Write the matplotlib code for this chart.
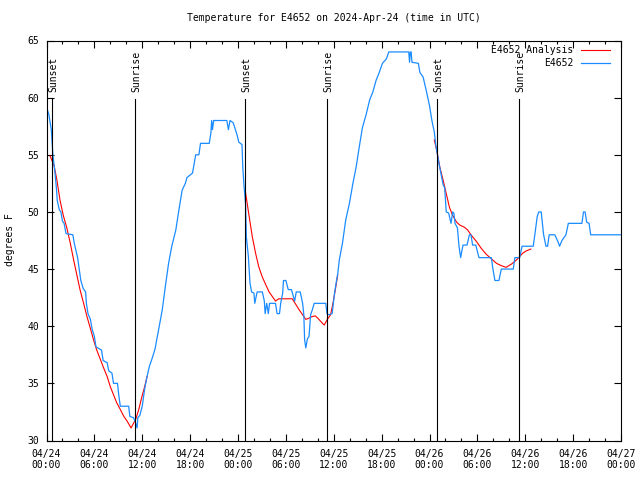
import numpy as np
import matplotlib
matplotlib.use('Agg')
import matplotlib.pyplot as plt
from matplotlib.ticker import MultipleLocator
import matplotlib.transforms as mtransforms

plt.rcParams['font.family'] = ['DejaVu Sans Mono']
plt.rcParams['font.size'] = 7

# Observed temperature (hours since 04/24 00:00 UTC, deg F)
obs_hours = [0.0, 0.3, 0.6, 0.75, 0.8, 1.05, 1.25, 1.35, 1.6, 1.8, 2.0, 2.2, 2.45, 3.3, 3.5, 3.9,
             4.1, 4.3, 4.6, 4.9, 5.0, 5.2, 5.5, 5.7, 6.0, 6.2, 6.9, 7.1, 7.6, 7.8, 8.2, 8.4,
             8.9, 9.05, 9.25, 10.3, 10.45, 10.9, 11.1, 11.35, 11.45, 11.7, 12.0, 12.3, 12.6, 12.9,
             13.2, 13.6, 14.0, 14.5, 14.9, 15.3, 15.7, 16.2, 16.6, 17.0, 17.4, 17.6, 18.3, 18.5,
             18.7, 19.1, 19.3, 20.4, 20.6, 20.7, 20.8, 20.95, 22.6, 22.8, 23.0, 23.4, 23.9, 24.1,
             24.5, 24.6, 24.75, 24.95, 25.05, 25.3, 25.5, 25.7, 26.0, 26.1, 26.4, 27.05, 27.3, 27.4,
             27.6, 27.8, 27.95, 28.7, 28.9, 29.2, 29.35, 29.6, 29.7, 30.0, 30.3, 30.7, 31.1, 31.3,
             31.8, 32.1, 32.25, 32.35, 32.5, 32.7, 32.9, 33.1, 33.3, 33.55, 35.0, 35.15, 35.4, 35.8,
             36.1, 36.3, 36.5, 36.7, 37.1, 37.5, 37.95, 38.4, 38.8, 39.2, 39.6, 40.05, 40.5, 40.9,
             41.3, 41.7, 42.1, 42.6, 42.9, 45.4, 45.5, 45.6, 45.7, 45.8, 46.6, 46.8, 47.2, 47.6,
             48.0, 48.3, 48.6, 48.8, 49.2, 49.5, 49.7, 49.9, 50.1, 50.4, 50.7, 50.9, 51.05, 51.2,
             51.5, 51.7, 51.9, 52.2, 52.7, 53.0, 53.2, 53.4, 53.8, 54.2, 55.75, 55.95, 56.2, 56.7,
             57.0, 58.5, 58.7, 59.3, 59.6, 61.0, 61.2, 61.5, 61.7, 62.0, 62.3, 62.6, 62.8, 63.0,
             63.7, 64.1, 64.3, 64.6, 65.1, 65.4, 67.1, 67.3, 67.5, 67.7, 68.0, 68.2, 72.0]
obs_temps = [59.2, 58.5, 57.2, 55.5, 55.0, 53.5, 52.0, 51.0, 50.2, 50.0, 49.2, 49.0, 48.1, 48.0, 47.2, 46.0,
             45.0, 44.0, 43.3, 43.0, 42.0, 41.1, 40.6, 39.8, 39.1, 38.2, 37.9, 37.0, 36.8, 36.1, 35.9, 35.0,
             35.0, 34.0, 33.0, 33.0, 32.1, 32.0, 31.7, 31.1, 32.0, 32.2, 33.0, 34.5, 35.6, 36.5,
             37.1, 38.0, 39.5, 41.4, 43.5, 45.5, 47.0, 48.4, 50.2, 51.9, 52.5, 53.0, 53.4, 54.2,
             55.0, 55.0, 56.0, 56.0, 56.9, 58.0, 57.2, 58.0, 58.0, 57.2, 58.0, 57.8, 56.7, 56.1,
             55.9, 53.9, 52.3, 50.7, 47.8, 46.1, 43.8, 43.0, 42.9, 42.0, 43.0, 43.0, 42.2, 41.1,
             42.0, 41.1, 42.0, 42.0, 41.1, 41.1, 42.0, 42.9, 44.0, 44.0, 43.2, 43.2, 42.2, 43.0,
             43.0, 42.0, 41.0, 38.8, 38.1, 38.9, 39.1, 41.0, 41.4, 42.0, 42.0, 41.1, 41.0, 41.1,
             42.9, 43.8, 44.6, 45.8, 47.3, 49.3, 50.7, 52.5, 53.9, 55.7, 57.4, 58.5, 59.8, 60.5,
             61.5, 62.2, 63.0, 63.4, 64.0, 64.0, 63.1, 64.0, 64.0, 63.1, 63.0, 62.2, 61.8, 60.6,
             59.3, 58.0, 57.0, 55.8, 54.2, 53.1, 52.4, 52.1, 50.0, 49.9, 49.0, 50.0, 49.9, 49.0,
             48.6, 47.0, 46.0, 47.1, 47.1, 48.0, 48.0, 47.1, 47.1, 46.0, 46.0, 45.0, 44.0, 44.0,
             45.0, 45.0, 46.0, 46.0, 47.0, 47.0, 48.0, 49.6, 50.0, 50.0, 48.0, 47.0, 47.0, 48.0,
             48.0, 47.4, 47.0, 47.5, 48.0, 49.0, 49.0, 50.0, 50.0, 49.1, 49.0, 48.0, 48.0]

# Analysis curve, three night-time pieces
ana1_hours = [0.45, 0.97, 1.3, 1.7, 2.1, 2.55, 2.97, 3.4, 3.8, 4.2, 4.65, 5.07, 5.5, 5.9, 6.3, 6.75,
              7.16, 7.6, 8.0, 8.4, 8.8, 9.26, 9.7, 10.1, 10.6, 10.9, 11.2, 11.56, 11.98, 12.3, 12.6]
ana1_temps = [54.9, 54.0, 52.8, 51.0, 49.7, 48.6, 47.3, 45.8, 44.5, 43.2, 42.0, 40.85, 39.8, 38.8, 37.9, 37.1,
              36.35, 35.6, 34.7, 34.0, 33.3, 32.7, 32.1, 31.7, 31.1, 31.5, 31.9, 32.7, 33.9, 34.7, 35.6]
ana2_hours = [24.9, 25.4, 25.8, 26.2, 26.6, 27.05, 27.5, 27.9, 28.3, 28.7, 29.1, 29.6, 30.8, 31.25,
              31.7, 32.1, 32.5, 32.9, 33.3, 33.7, 34.0, 34.4, 34.8, 35.2, 35.6, 35.9, 36.2, 36.5]
ana2_temps = [51.9, 49.6, 47.8, 46.4, 45.2, 44.3, 43.6, 43.0, 42.6, 42.2, 42.4, 42.4, 42.4, 41.9,
              41.4, 41.0, 40.6, 40.7, 40.85, 40.9, 40.7, 40.4, 40.1, 40.6, 41.0, 42.0, 43.2, 44.5]
ana3_hours = [48.6, 48.9, 49.3, 49.7, 50.1, 50.5, 50.9, 51.4, 51.8, 52.4, 52.8, 53.2, 53.9, 54.5,
              55.1, 55.75, 56.4, 57.0, 57.6, 58.3, 58.9, 59.3, 59.7, 60.15, 60.7]
ana3_temps = [56.3, 55.4, 53.9, 52.8, 51.6, 50.4, 49.7, 49.1, 48.85, 48.65, 48.4, 48.0, 47.4, 46.8,
              46.3, 45.9, 45.5, 45.3, 45.15, 45.45, 45.8, 46.1, 46.4, 46.6, 46.75]

sun_hours = [0.75, 11.15, 24.9, 35.2, 48.95, 59.2]
sun_labels = ['Sunset', 'Sunrise', 'Sunset', 'Sunrise', 'Sunset', 'Sunrise']

tick_hours = list(range(0, 73, 6))
tick_labels = ['04/24\n00:00', '04/24\n06:00', '04/24\n12:00', '04/24\n18:00',
               '04/25\n00:00', '04/25\n06:00', '04/25\n12:00', '04/25\n18:00',
               '04/26\n00:00', '04/26\n06:00', '04/26\n12:00', '04/26\n18:00',
               '04/27\n00:00']

red = '#ff0000'
blue = '#1a8cff'

fig = plt.figure(figsize=(6.4, 4.8), dpi=100)
ax = fig.add_axes([46.5/640, 39.5/480, 574.5/640, 400/480])

ax.plot(ana1_hours, ana1_temps, color=red, lw=0.8, label='E4652 Analysis')
ax.plot(ana2_hours, ana2_temps, color=red, lw=0.8)
ax.plot(ana3_hours, ana3_temps, color=red, lw=0.8)
ax.plot(obs_hours, obs_temps, color=blue, lw=0.9, label='E4652')

# sunrise / sunset markers
trans = mtransforms.blended_transform_factory(ax.transData, ax.transAxes)
for h, lab in zip(sun_hours, sun_labels):
    ax.axvline(h, ymin=0, ymax=0.854, color='k', lw=0.8, zorder=5)
    ax.text(h + 0.15, 0.871, lab, transform=trans, rotation=90, ha='center', va='bottom')

ax.set_xlim(0, 72)
ax.set_ylim(30, 65)
ax.set_xticks(tick_hours)
ax.set_xticklabels(tick_labels)
ax.xaxis.set_minor_locator(MultipleLocator(2))
ax.yaxis.set_major_locator(MultipleLocator(5))
ax.tick_params(which='both', direction='in', top=True, right=True, width=0.8)
ax.tick_params(which='major', length=5)
ax.tick_params(which='minor', length=2)
ax.tick_params(axis='x', which='major', pad=6)
ax.tick_params(axis='y', which='major', pad=5)
for s in ax.spines.values():
    s.set_linewidth(0.8)

ax.set_title('Temperature for E4652 on 2024-Apr-24 (time in UTC)', fontsize=7, pad=14)
fig.text(10/640, 0.5, 'degrees F', rotation=90, ha='center', va='center')

ax.legend(loc='upper right', bbox_to_anchor=(1 - 11/574.5, 1 - 4.5/400), frameon=False,
          markerfirst=False, handlelength=3.0, handletextpad=0.8, labelspacing=0.3,
          borderpad=0, borderaxespad=0)

fig.savefig('out.png', dpi=100)
